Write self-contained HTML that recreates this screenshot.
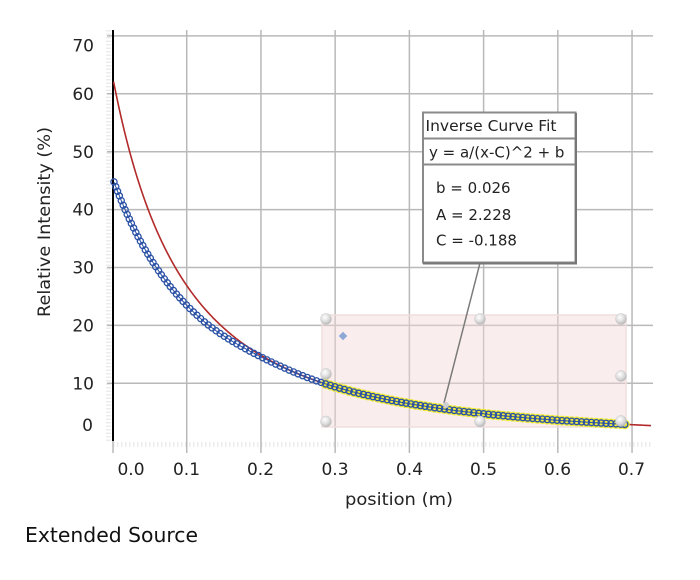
<!DOCTYPE html>
<html>
<head>
<meta charset="utf-8">
<style>
  html,body{margin:0;padding:0;background:#fff;}
  body{width:700px;height:580px;overflow:hidden;position:relative;font-family:"DejaVu Sans","Liberation Sans",sans-serif;}
  svg{position:absolute;left:0;top:0;}
  svg text{font-family:"DejaVu Sans","Liberation Sans",sans-serif;}
</style>
</head>
<body>
<svg id="chart" width="700" height="580" viewBox="0 0 700 580" xmlns="http://www.w3.org/2000/svg">
  <defs>
    <radialGradient id="hg" cx="40%" cy="35%" r="65%">
      <stop offset="0%" stop-color="#ffffff"/>
      <stop offset="60%" stop-color="#dcdcdc"/>
      <stop offset="100%" stop-color="#b8b8b8"/>
    </radialGradient>
  </defs>
  <rect x="0" y="0" width="700" height="580" fill="#fff"/>

  <!-- minor ticks left -->
  <line x1="108.5" y1="30" x2="108.5" y2="441" stroke="#ececec" stroke-width="5" stroke-dasharray="1.5 2"/>
  <!-- minor ticks bottom -->
  <line x1="113" y1="444.5" x2="653" y2="444.5" stroke="#ececec" stroke-width="5" stroke-dasharray="1.5 2.5"/>

  <g id="grid" stroke="#b9b9b9" stroke-width="1.5"></g>

  <!-- selection rectangle -->
  <rect x="322" y="315" width="304" height="112" fill="#f3d8d8" fill-opacity="0.45" stroke="#efdede" stroke-width="1.5"/>

  <!-- y axis -->
  <line x1="113" y1="30" x2="113" y2="441" stroke="#000" stroke-width="2"/>

  <path id="red" fill="none" stroke="#b22a2a" stroke-width="1.6"/>
  <g id="data"></g>

  <!-- handles -->
  <g fill="url(#hg)" stroke="#c8c8c8" stroke-width="0.5">
    <circle cx="326" cy="319" r="5.5"/>
    <circle cx="480" cy="319" r="5.5"/>
    <circle cx="621" cy="319" r="5.5"/>
    <circle cx="326" cy="374" r="5.5"/>
    <circle cx="621" cy="376" r="5.5"/>
    <circle cx="326" cy="421.5" r="5.5"/>
    <circle cx="480" cy="421.5" r="5.5"/>
    <circle cx="621" cy="421" r="5.5"/>
  </g>
  <!-- diamond -->
  <rect x="340" y="333" width="6" height="6" fill="#8ea7d6" transform="rotate(45 343 336)"/>

  <!-- leader line -->
  <line x1="480" y1="263" x2="444" y2="403" stroke="#7a7a7a" stroke-width="1.5"/>
  <circle cx="446" cy="405" r="3" fill="#cfcfcf"/>

  <!-- annotation box -->
  <rect x="423" y="112.5" width="152.5" height="150" fill="#fff" stroke="#8a8a8a" stroke-width="2"/>
  <line x1="576" y1="113" x2="576" y2="264" stroke="#777" stroke-width="2"/>
  <line x1="423" y1="263.5" x2="577" y2="263.5" stroke="#777" stroke-width="2"/>
  <line x1="423" y1="138.5" x2="575" y2="138.5" stroke="#8a8a8a" stroke-width="2"/>
  <line x1="423" y1="164.5" x2="575" y2="164.5" stroke="#8a8a8a" stroke-width="2"/>
  <text x="425.5" y="131" font-size="15" fill="#222" textLength="131" lengthAdjust="spacingAndGlyphs">Inverse Curve Fit</text>
  <text x="429" y="157.5" font-size="15" fill="#222">y = a/(x-C)^2 + b</text>
  <text x="436" y="193" font-size="15" fill="#222">b = 0.026</text>
  <text x="436" y="220" font-size="15" fill="#222">A = 2.228</text>
  <text x="436" y="245.5" font-size="15" fill="#222">C = -0.188</text>

  <!-- y tick labels -->
  <g font-size="17" fill="#222" text-anchor="end">
    <text x="94" y="51.5">70</text>
    <text x="94" y="100">60</text>
    <text x="94" y="158">50</text>
    <text x="94" y="215.5">40</text>
    <text x="94" y="273.5">30</text>
    <text x="94" y="331.5">20</text>
    <text x="94" y="389.5">10</text>
    <text x="93" y="431">0</text>
  </g>
  <!-- x tick labels -->
  <g font-size="17" fill="#222" text-anchor="middle">
    <text x="131" y="475">0.0</text>
    <text x="186.5" y="475">0.1</text>
    <text x="260.5" y="475">0.2</text>
    <text x="335" y="475">0.3</text>
    <text x="409.5" y="475">0.4</text>
    <text x="483.5" y="475">0.5</text>
    <text x="557.5" y="475">0.6</text>
    <text x="631.5" y="475">0.7</text>
  </g>
  <text x="399" y="505" font-size="17" fill="#222" text-anchor="middle" textLength="108" lengthAdjust="spacingAndGlyphs">position (m)</text>
  <text transform="translate(50 222) rotate(-90)" font-size="17" fill="#222" text-anchor="middle" textLength="190" lengthAdjust="spacingAndGlyphs">Relative Intensity (%)</text>
  <text x="25" y="542" font-size="20" fill="#111" textLength="173" lengthAdjust="spacingAndGlyphs">Extended Source</text>
</svg>
<script>
(function(){
  var NS="http://www.w3.org/2000/svg";
  function X(v){return 112.5+742.2*v;}
  function Y(v){return 441.2-5.79*v;}
  var grid=document.getElementById("grid");
  function line(p,x1,y1,x2,y2){
    var l=document.createElementNS(NS,"line");
    l.setAttribute("x1",x1);l.setAttribute("y1",y1);l.setAttribute("x2",x2);l.setAttribute("y2",y2);
    p.appendChild(l);
  }
  for(var i=1;i<=7;i++){var gx=X(i/10);line(grid,gx,30,gx,453);}
  for(var j=1;j<=7;j++){var gy=Y(j*10);line(grid,107,gy,653,gy);}
  line(grid,113,441,113,453);

  function fit(x){return 2.228/Math.pow(x+0.188,2)+0.026;}
  function model(x){return 2.958/Math.pow(x+0.255,2);}
  function dat(x){var t=(x-0.12)/0.16;t=Math.max(0,Math.min(1,t));t=t*t*(3-2*t);return model(x)*(1-t)+fit(x)*t;}

  var d="";
  for(var x=0.0015;x<=0.7275;x+=0.002){d+=(d?"L":"M")+X(x).toFixed(2)+" "+Y(fit(x)).toFixed(2);}
  document.getElementById("red").setAttribute("d",d);

  var pts=[];var x0=0.002;pts.push([X(x0),Y(dat(x0))]);
  var cx=x0;
  while(cx<0.69){
    var nx=cx;var last=pts[pts.length-1];
    while(nx<0.69){nx+=0.0002;var px=X(nx),py=Y(dat(nx));if(Math.hypot(px-last[0],py-last[1])>=4.8)break;}
    cx=nx;pts.push([X(cx),Y(dat(cx))]);
  }
  var g=document.getElementById("data");
  pts.forEach(function(p){
    if(p[0]>=322){var c=document.createElementNS(NS,"circle");c.setAttribute("cx",p[0]);c.setAttribute("cy",p[1]);c.setAttribute("r",5);c.setAttribute("fill","#eeea3a");g.appendChild(c);}
  });
  var pl=document.createElementNS(NS,"polyline");
  pl.setAttribute("points",pts.map(function(p){return p[0].toFixed(2)+","+p[1].toFixed(2);}).join(" "));
  pl.setAttribute("fill","none");pl.setAttribute("stroke","#2c52a6");pl.setAttribute("stroke-width","1");
  g.appendChild(pl);
  pts.forEach(function(p){
    var c=document.createElementNS(NS,"circle");c.setAttribute("cx",p[0]);c.setAttribute("cy",p[1]);c.setAttribute("r",3.1);
    c.setAttribute("fill","none");c.setAttribute("stroke","#2c52a6");c.setAttribute("stroke-width","1.3");g.appendChild(c);
  });
})();
</script>
</body>
</html>
